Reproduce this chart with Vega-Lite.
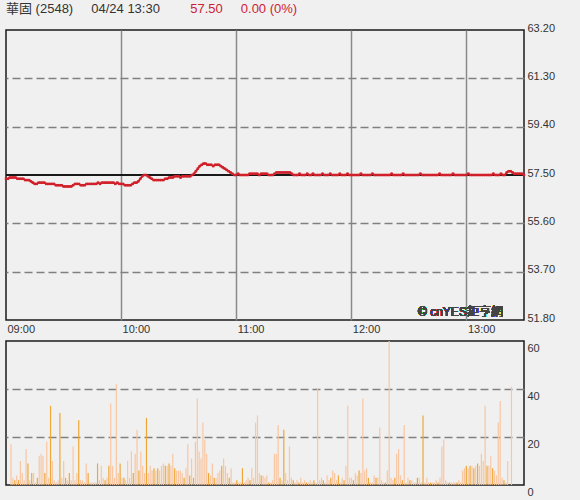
{
  "$schema": "https://vega.github.io/schema/vega-lite/v6.json",
  "background": "#f0f0f0",
  "padding": {"left": 1, "top": 3, "right": 25, "bottom": 2},
  "title": {
    "text": "華固 (2548)\u00a0\u00a0\u00a0\u00a0\u00a004/24 13:30",
    "subtitle": "\u200b\u00a0\u00a0\u00a0\u00a0\u00a0\u00a0\u00a0\u00a0\u00a0\u00a0\u00a0\u00a0\u00a0\u00a0\u00a0\u00a0\u00a0\u00a0\u00a0\u00a0\u00a0\u00a0\u00a0\u00a0\u00a0\u00a0\u00a0\u00a0\u00a0\u00a0\u00a0\u00a0\u00a0\u00a0\u00a0\u00a0\u00a0\u00a0\u00a0\u00a0\u00a0\u00a0\u00a0\u00a0\u00a0\u00a0\u00a0\u00a0\u00a0\u00a0\u00a057.50\u00a0\u00a0\u00a0\u00a0\u00a00.00 (0%)",
    "anchor": "start",
    "frame": "group",
    "font": "Liberation Sans, Noto Sans CJK TC, sans-serif",
    "subtitleFont": "Liberation Sans, Noto Sans CJK TC, sans-serif",
    "fontSize": 13,
    "subtitleFontSize": 13,
    "fontWeight": "normal",
    "color": "#333333",
    "subtitleColor": "#cc2233",
    "subtitlePadding": -13,
    "offset": 5
  },
  "config": {
    "view": {"stroke": "#1a1a1a", "strokeWidth": 1.5},
    "font": "Liberation Sans, Noto Sans CJK TC, sans-serif",
    "axis": {"labelFont": "Liberation Sans", "labelFontSize": 11, "labelColor": "#333333", "domain": false, "ticks": false, "title": null}
  },
  "data": {"values": [
{"t":0,"p":57.35,"v":17,"c":"u"},{"t":1,"p":57.35,"v":3,"c":"u"},{"t":2,"p":57.4,"v":2,"c":"d"},{"t":3,"p":57.4,"v":4,"c":"u"},{"t":4,"p":57.4,"v":2,"c":"d"},{"t":5,"p":57.4,"v":10,"c":"u"},{"t":6,"p":57.35,"v":5,"c":"u"},{"t":7,"p":57.35,"v":2,"c":"u"},{"t":8,"p":57.35,"v":15,"c":"u"},{"t":9,"p":57.35,"v":9,"c":"d"},
{"t":10,"p":57.3,"v":2,"c":"u"},{"t":11,"p":57.3,"v":5,"c":"d"},{"t":12,"p":57.3,"v":5,"c":"u"},{"t":13,"p":57.25,"v":1,"c":"u"},{"t":14,"p":57.2,"v":3,"c":"d"},{"t":15,"p":57.15,"v":12,"c":"u"},{"t":16,"p":57.15,"v":13,"c":"u"},{"t":17,"p":57.2,"v":12,"c":"u"},{"t":18,"p":57.2,"v":5,"c":"d"},{"t":19,"p":57.2,"v":18,"c":"u"},
{"t":20,"p":57.2,"v":3,"c":"u"},{"t":21,"p":57.15,"v":33,"c":"d"},{"t":22,"p":57.15,"v":10,"c":"u"},{"t":23,"p":57.15,"v":2,"c":"u"},{"t":24,"p":57.15,"v":1,"c":"u"},{"t":25,"p":57.15,"v":2,"c":"u"},{"t":26,"p":57.1,"v":30,"c":"d"},{"t":27,"p":57.1,"v":3,"c":"u"},{"t":28,"p":57.1,"v":10,"c":"u"},{"t":29,"p":57.1,"v":3,"c":"d"},
{"t":30,"p":57.05,"v":2,"c":"u"},{"t":31,"p":57.05,"v":5,"c":"d"},{"t":32,"p":57.05,"v":2,"c":"u"},{"t":33,"p":57.05,"v":16,"c":"u"},{"t":34,"p":57.05,"v":2,"c":"u"},{"t":35,"p":57.1,"v":5,"c":"u"},{"t":36,"p":57.15,"v":27,"c":"d"},{"t":37,"p":57.15,"v":2,"c":"u"},{"t":38,"p":57.15,"v":2,"c":"u"},{"t":39,"p":57.1,"v":1,"c":"u"},
{"t":40,"p":57.1,"v":9,"c":"u"},{"t":41,"p":57.1,"v":5,"c":"d"},{"t":42,"p":57.15,"v":1,"c":"u"},{"t":43,"p":57.15,"v":1,"c":"u"},{"t":44,"p":57.15,"v":1,"c":"u"},{"t":45,"p":57.15,"v":1,"c":"u"},{"t":46,"p":57.15,"v":9,"c":"d"},{"t":47,"p":57.15,"v":2,"c":"u"},{"t":48,"p":57.2,"v":8,"c":"u"},{"t":49,"p":57.15,"v":3,"c":"u"},
{"t":50,"p":57.2,"v":2,"c":"d"},{"t":51,"p":57.2,"v":3,"c":"u"},{"t":52,"p":57.2,"v":8,"c":"d"},{"t":53,"p":57.2,"v":34,"c":"u"},{"t":54,"p":57.2,"v":8,"c":"u"},{"t":55,"p":57.2,"v":3,"c":"u"},{"t":56,"p":57.2,"v":42,"c":"u"},{"t":57,"p":57.15,"v":5,"c":"u"},{"t":58,"p":57.2,"v":9,"c":"d"},{"t":59,"p":57.15,"v":3,"c":"u"},
{"t":60,"p":57.15,"v":3,"c":"d"},{"t":61,"p":57.15,"v":2,"c":"u"},{"t":62,"p":57.1,"v":10,"c":"u"},{"t":63,"p":57.1,"v":3,"c":"u"},{"t":64,"p":57.1,"v":14,"c":"u"},{"t":65,"p":57.1,"v":5,"c":"d"},{"t":66,"p":57.15,"v":13,"c":"u"},{"t":67,"p":57.2,"v":23,"c":"u"},{"t":68,"p":57.2,"v":6,"c":"d"},{"t":69,"p":57.25,"v":14,"c":"u"},
{"t":70,"p":57.35,"v":8,"c":"u"},{"t":71,"p":57.45,"v":5,"c":"u"},{"t":72,"p":57.5,"v":28,"c":"d"},{"t":73,"p":57.5,"v":5,"c":"u"},{"t":74,"p":57.45,"v":8,"c":"u"},{"t":75,"p":57.4,"v":6,"c":"u"},{"t":76,"p":57.35,"v":7,"c":"d"},{"t":77,"p":57.3,"v":6,"c":"u"},{"t":78,"p":57.3,"v":7,"c":"d"},{"t":79,"p":57.3,"v":6,"c":"u"},
{"t":80,"p":57.3,"v":8,"c":"u"},{"t":81,"p":57.3,"v":9,"c":"u"},{"t":82,"p":57.3,"v":8,"c":"d"},{"t":83,"p":57.35,"v":8,"c":"u"},{"t":84,"p":57.35,"v":9,"c":"d"},{"t":85,"p":57.4,"v":8,"c":"u"},{"t":86,"p":57.4,"v":13,"c":"u"},{"t":87,"p":57.4,"v":7,"c":"d"},{"t":88,"p":57.45,"v":6,"c":"u"},{"t":89,"p":57.45,"v":6,"c":"u"},
{"t":90,"p":57.45,"v":6,"c":"u"},{"t":91,"p":57.4,"v":5,"c":"u"},{"t":92,"p":57.45,"v":3,"c":"d"},{"t":93,"p":57.45,"v":7,"c":"u"},{"t":94,"p":57.45,"v":17,"c":"u"},{"t":95,"p":57.45,"v":4,"c":"d"},{"t":96,"p":57.45,"v":11,"c":"u"},{"t":97,"p":57.5,"v":3,"c":"d"},{"t":98,"p":57.55,"v":18,"c":"u"},{"t":99,"p":57.65,"v":36,"c":"u"},
{"t":100,"p":57.75,"v":14,"c":"u"},{"t":101,"p":57.85,"v":11,"c":"u"},{"t":102,"p":57.9,"v":26,"c":"u"},{"t":103,"p":57.95,"v":19,"c":"u"},{"t":104,"p":57.95,"v":13,"c":"u"},{"t":105,"p":57.9,"v":5,"c":"d"},{"t":106,"p":57.9,"v":4,"c":"u"},{"t":107,"p":57.9,"v":9,"c":"u"},{"t":108,"p":57.85,"v":3,"c":"d"},{"t":109,"p":57.9,"v":3,"c":"u"},
{"t":110,"p":57.9,"v":5,"c":"u"},{"t":111,"p":57.9,"v":6,"c":"u"},{"t":112,"p":57.85,"v":8,"c":"d"},{"t":113,"p":57.8,"v":11,"c":"u"},{"t":114,"p":57.75,"v":8,"c":"u"},{"t":115,"p":57.7,"v":5,"c":"u"},{"t":116,"p":57.65,"v":3,"c":"d"},{"t":117,"p":57.6,"v":7,"c":"u"},{"t":118,"p":57.55,"v":1,"c":"u"},{"t":119,"p":57.5,"v":1,"c":"u"},
{"t":120,"p":57.5,"v":2,"c":"d"},{"t":121,"p":57.55,"v":1,"c":"u"},{"t":122,"p":57.5,"v":1,"c":"u"},{"t":123,"p":57.5,"v":7,"c":"d"},{"t":124,"p":57.5,"v":1,"c":"u"},{"t":125,"p":57.5,"v":2,"c":"u"},{"t":126,"p":57.5,"v":3,"c":"u"},{"t":127,"p":57.55,"v":2,"c":"d"},{"t":128,"p":57.55,"v":7,"c":"u"},{"t":129,"p":57.55,"v":3,"c":"u"},
{"t":130,"p":57.55,"v":26,"c":"u"},{"t":131,"p":57.55,"v":29,"c":"u"},{"t":132,"p":57.5,"v":5,"c":"u"},{"t":133,"p":57.55,"v":4,"c":"d"},{"t":134,"p":57.55,"v":4,"c":"u"},{"t":135,"p":57.55,"v":3,"c":"u"},{"t":136,"p":57.55,"v":4,"c":"u"},{"t":137,"p":57.5,"v":1,"c":"d"},{"t":138,"p":57.5,"v":1,"c":"u"},{"t":139,"p":57.5,"v":2,"c":"u"},
{"t":140,"p":57.55,"v":13,"c":"u"},{"t":141,"p":57.6,"v":13,"c":"u"},{"t":142,"p":57.6,"v":25,"c":"u"},{"t":143,"p":57.6,"v":3,"c":"d"},{"t":144,"p":57.6,"v":2,"c":"u"},{"t":145,"p":57.6,"v":23,"c":"d"},{"t":146,"p":57.6,"v":5,"c":"u"},{"t":147,"p":57.6,"v":2,"c":"u"},{"t":148,"p":57.6,"v":16,"c":"u"},{"t":149,"p":57.55,"v":3,"c":"u"},
{"t":150,"p":57.5,"v":2,"c":"d"},{"t":151,"p":57.5,"v":1,"c":"u"},{"t":152,"p":57.5,"v":2,"c":"u"},{"t":153,"p":57.55,"v":1,"c":"d"},{"t":154,"p":57.5,"v":3,"c":"u"},{"t":155,"p":57.5,"v":1,"c":"u"},{"t":156,"p":57.5,"v":2,"c":"u"},{"t":157,"p":57.55,"v":1,"c":"d"},{"t":158,"p":57.5,"v":1,"c":"u"},{"t":159,"p":57.5,"v":2,"c":"u"},
{"t":160,"p":57.55,"v":1,"c":"u"},{"t":161,"p":57.5,"v":2,"c":"d"},{"t":162,"p":57.5,"v":1,"c":"u"},{"t":163,"p":57.5,"v":40,"c":"u"},{"t":164,"p":57.5,"v":2,"c":"u"},{"t":165,"p":57.55,"v":3,"c":"u"},{"t":166,"p":57.5,"v":2,"c":"d"},{"t":167,"p":57.5,"v":1,"c":"u"},{"t":168,"p":57.5,"v":4,"c":"u"},{"t":169,"p":57.55,"v":2,"c":"u"},
{"t":170,"p":57.5,"v":3,"c":"d"},{"t":171,"p":57.5,"v":6,"c":"u"},{"t":172,"p":57.5,"v":5,"c":"u"},{"t":173,"p":57.5,"v":2,"c":"u"},{"t":174,"p":57.55,"v":4,"c":"d"},{"t":175,"p":57.5,"v":1,"c":"u"},{"t":176,"p":57.5,"v":3,"c":"u"},{"t":177,"p":57.5,"v":2,"c":"d"},{"t":178,"p":57.55,"v":8,"c":"u"},{"t":179,"p":57.5,"v":33,"c":"u"},
{"t":180,"p":57.5,"v":3,"c":"u"},{"t":181,"p":57.5,"v":3,"c":"u"},{"t":182,"p":57.5,"v":2,"c":"d"},{"t":183,"p":57.5,"v":5,"c":"u"},{"t":184,"p":57.5,"v":4,"c":"u"},{"t":185,"p":57.55,"v":6,"c":"d"},{"t":186,"p":57.5,"v":5,"c":"u"},{"t":187,"p":57.5,"v":36,"c":"u"},{"t":188,"p":57.5,"v":6,"c":"u"},{"t":189,"p":57.5,"v":7,"c":"u"},
{"t":190,"p":57.5,"v":3,"c":"d"},{"t":191,"p":57.55,"v":1,"c":"u"},{"t":192,"p":57.5,"v":1,"c":"u"},{"t":193,"p":57.5,"v":4,"c":"u"},{"t":194,"p":57.5,"v":3,"c":"d"},{"t":195,"p":57.5,"v":3,"c":"u"},{"t":196,"p":57.5,"v":24,"c":"u"},{"t":197,"p":57.5,"v":2,"c":"u"},{"t":198,"p":57.5,"v":1,"c":"u"},{"t":199,"p":57.5,"v":1,"c":"d"},
{"t":200,"p":57.5,"v":6,"c":"u"},{"t":201,"p":57.55,"v":60,"c":"u"},{"t":202,"p":57.5,"v":3,"c":"u"},{"t":203,"p":57.5,"v":2,"c":"u"},{"t":204,"p":57.5,"v":3,"c":"d"},{"t":205,"p":57.5,"v":13,"c":"u"},{"t":206,"p":57.5,"v":15,"c":"u"},{"t":207,"p":57.55,"v":4,"c":"u"},{"t":208,"p":57.5,"v":2,"c":"d"},{"t":209,"p":57.5,"v":25,"c":"u"},
{"t":210,"p":57.5,"v":1,"c":"u"},{"t":211,"p":57.5,"v":3,"c":"u"},{"t":212,"p":57.5,"v":2,"c":"d"},{"t":213,"p":57.5,"v":2,"c":"u"},{"t":214,"p":57.5,"v":1,"c":"u"},{"t":215,"p":57.5,"v":1,"c":"u"},{"t":216,"p":57.55,"v":3,"c":"d"},{"t":217,"p":57.5,"v":3,"c":"u"},{"t":218,"p":57.5,"v":1,"c":"u"},{"t":219,"p":57.5,"v":29,"c":"d"},
{"t":220,"p":57.5,"v":1,"c":"u"},{"t":221,"p":57.5,"v":3,"c":"u"},{"t":222,"p":57.5,"v":1,"c":"u"},{"t":223,"p":57.5,"v":1,"c":"d"},{"t":224,"p":57.5,"v":1,"c":"u"},{"t":225,"p":57.5,"v":1,"c":"u"},{"t":226,"p":57.55,"v":2,"c":"u"},{"t":227,"p":57.5,"v":1,"c":"d"},{"t":228,"p":57.5,"v":3,"c":"u"},{"t":229,"p":57.5,"v":16,"c":"u"},
{"t":230,"p":57.5,"v":19,"c":"u"},{"t":231,"p":57.5,"v":2,"c":"u"},{"t":232,"p":57.5,"v":1,"c":"u"},{"t":233,"p":57.55,"v":1,"c":"d"},{"t":234,"p":57.5,"v":1,"c":"u"},{"t":235,"p":57.5,"v":1,"c":"u"},{"t":236,"p":57.5,"v":1,"c":"u"},{"t":237,"p":57.5,"v":1,"c":"d"},{"t":238,"p":57.5,"v":2,"c":"u"},{"t":239,"p":57.5,"v":1,"c":"u"},
{"t":240,"p":57.5,"v":6,"c":"u"},{"t":241,"p":57.55,"v":7,"c":"u"},{"t":242,"p":57.5,"v":8,"c":"d"},{"t":243,"p":57.5,"v":7,"c":"u"},{"t":244,"p":57.5,"v":8,"c":"d"},{"t":245,"p":57.5,"v":8,"c":"u"},{"t":246,"p":57.5,"v":7,"c":"d"},{"t":247,"p":57.5,"v":8,"c":"u"},{"t":248,"p":57.5,"v":9,"c":"d"},{"t":249,"p":57.5,"v":8,"c":"u"},
{"t":250,"p":57.5,"v":13,"c":"u"},{"t":251,"p":57.5,"v":10,"c":"u"},{"t":252,"p":57.5,"v":33,"c":"u"},{"t":253,"p":57.5,"v":8,"c":"d"},{"t":254,"p":57.55,"v":8,"c":"u"},{"t":255,"p":57.5,"v":12,"c":"u"},{"t":256,"p":57.5,"v":7,"c":"d"},{"t":257,"p":57.5,"v":6,"c":"u"},{"t":258,"p":57.55,"v":4,"c":"u"},{"t":259,"p":57.5,"v":26,"c":"u"},
{"t":260,"p":57.5,"v":35,"c":"u"},{"t":261,"p":57.6,"v":3,"c":"u"},{"t":262,"p":57.65,"v":2,"c":"d"},{"t":263,"p":57.65,"v":1,"c":"u"},{"t":264,"p":57.6,"v":10,"c":"u"},{"t":265,"p":57.55,"v":0,"c":"u"},{"t":266,"p":57.55,"v":41,"c":"u"},{"t":267,"p":57.55,"v":0,"c":"u"},{"t":268,"p":57.55,"v":0,"c":"u"},{"t":269,"p":57.55,"v":0,"c":"u"},
{"t":270,"p":57.5,"v":0,"c":"u"}
  ]},
  "spacing": 5,
  "resolve": {"scale": {"x": "independent", "y": "independent"}},
  "vconcat": [
    {
      "width": 518,
      "height": 290,
      "encoding": {
        "x": {"field": "t", "type": "quantitative",
          "scale": {"domain": [0, 270], "nice": false, "zero": false},
          "axis": {"values": [0, 60, 120, 180, 240],
            "labelExpr": "['09:00','10:00','11:00','12:00','13:00'][datum.value/60]",
            "labelAlign": "left", "labelOffset": 1, "labelPadding": 3,
            "grid": true, "gridColor": "#8a8a8a", "gridWidth": 1.5,
            "gridOpacity": {"condition": {"test": "datum.value == 0", "value": 0}, "value": 1}}},
        "y": {"field": "p", "type": "quantitative",
          "scale": {"domain": [51.8, 63.2], "nice": false, "zero": false},
          "axis": {"orient": "right", "values": [51.8, 53.7, 55.6, 57.5, 59.4, 61.3, 63.2], "format": ".2f",
            "labelPadding": 3, "labelOffset": -2, "labelBaseline": "middle",
            "grid": true, "gridColor": "#808080", "gridWidth": 1.5, "gridDash": [8, 4],
            "gridOpacity": {"condition": {"test": "datum.value == 51.8 || datum.value == 57.5 || datum.value == 63.2", "value": 0}, "value": 1}}}
      },
      "layer": [
        {"mark": {"type": "rule", "color": "#1a1a1a", "strokeWidth": 1.5},
         "encoding": {"y": {"datum": 57.5}, "x": {"datum": 0}, "x2": {"datum": 270}}},
        {"mark": {"type": "line", "color": "#d0202a", "strokeWidth": 2}},
        {"mark": {"type": "point", "shape": "square", "filled": true, "size": 6, "color": "#d0202a", "opacity": 1}},
        {"mark": {"type": "text", "text": "© cnYES鉅亨網", "align": "right", "baseline": "bottom", "fontSize": 12, "color": "#444444", "dy": -1, "font": "Liberation Sans, Noto Sans CJK TC, sans-serif"},
         "encoding": {"x": {"datum": 259}, "y": {"datum": 51.8}}}
      ]
    },
    {
      "width": 518,
      "height": 144,
      "mark": {"type": "bar", "width": 1.2},
      "encoding": {
        "x": {"field": "t", "type": "quantitative",
          "scale": {"domain": [0, 270], "nice": false, "zero": false}, "axis": null},
        "y": {"field": "v", "type": "quantitative",
          "scale": {"domain": [0, 60], "nice": false},
          "axis": {"orient": "right", "values": [0, 20, 40, 60],
            "labelPadding": 3, "labelOffset": 7, "labelBaseline": "middle",
            "grid": true, "gridColor": "#808080", "gridWidth": 1.5, "gridDash": [8, 4],
            "gridOpacity": {"condition": {"test": "datum.value == 0 || datum.value == 60", "value": 0}, "value": 1}}},
        "color": {"field": "c", "type": "nominal",
          "scale": {"domain": ["d", "u"], "range": ["#efa838", "#f9c6a2"]}, "legend": null}
      }
    }
  ]
}
